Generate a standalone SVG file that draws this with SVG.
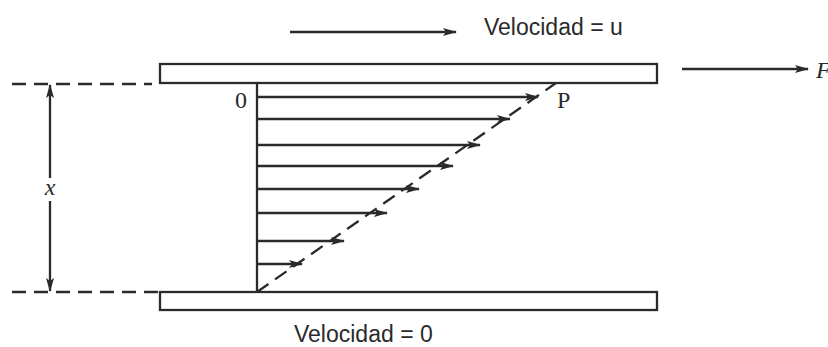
<svg xmlns="http://www.w3.org/2000/svg" width="828" height="347" viewBox="0 0 828 347">
<defs>
<marker id="ah" markerWidth="14" markerHeight="10" refX="13" refY="5" orient="auto" markerUnits="userSpaceOnUse">
<path d="M0,1 L14,5 L0,9 L3,5 Z" fill="#2a2a2a"/>
</marker>
</defs>
<style>
.ln{stroke:#2a2a2a;stroke-width:2.3;fill:none}
.dash{stroke:#2a2a2a;stroke-width:2.3;fill:none;stroke-dasharray:14,8}
.plate{fill:#fff;stroke:#2a2a2a;stroke-width:2.3}
.sans{font-family:"Liberation Sans",Arial,sans-serif;font-size:23px;fill:#2a2a2a}
.serif{font-family:"Liberation Serif","Times New Roman",serif;font-size:24px;fill:#2a2a2a}
</style>
<rect width="828" height="347" fill="#fff"/>
<g id="top-plate"><rect class="plate" x="160" y="64" width="497" height="19"/></g>
<g id="bottom-plate"><rect class="plate" x="160" y="292" width="497" height="18"/></g>
<g id="labels">
<text class="sans" x="484" y="35">Velocidad = u</text>
<text class="sans" x="294" y="342">Velocidad = 0</text>
<text class="serif" x="235" y="108">0</text>
<text class="serif" x="557" y="108" font-size="25">P</text>
<text class="serif" x="816" y="78" font-style="italic" font-size="26">F</text>
<text class="serif" x="50" y="195" font-style="italic" font-size="24" text-anchor="middle">x</text>
</g>
<g id="connectors">
<line class="ln" x1="290" y1="32" x2="456" y2="32" marker-end="url(#ah)"/>
<line class="ln" x1="682" y1="69" x2="808" y2="69" marker-end="url(#ah)"/>
<line class="dash" x1="12" y1="84" x2="152" y2="84"/>
<line class="dash" x1="12" y1="292" x2="160" y2="292"/>
<line class="ln" x1="50" y1="178" x2="50" y2="85" marker-end="url(#ah)"/>
<line class="ln" x1="50" y1="201" x2="50" y2="291" marker-end="url(#ah)"/>
<line class="ln" x1="257" y1="83" x2="257" y2="292"/>
<line class="dash" x1="257" y1="292" x2="556" y2="83" stroke-dasharray="12,7"/>
<line class="ln" x1="257" y1="97" x2="538" y2="97" marker-end="url(#ah)"/>
<line class="ln" x1="257" y1="119" x2="510" y2="119" marker-end="url(#ah)"/>
<line class="ln" x1="257" y1="145" x2="480" y2="145" marker-end="url(#ah)"/>
<line class="ln" x1="257" y1="166" x2="453" y2="166" marker-end="url(#ah)"/>
<line class="ln" x1="257" y1="189" x2="419" y2="189" marker-end="url(#ah)"/>
<line class="ln" x1="257" y1="213" x2="387" y2="213" marker-end="url(#ah)"/>
<line class="ln" x1="257" y1="241" x2="344" y2="241" marker-end="url(#ah)"/>
<line class="ln" x1="257" y1="264" x2="302" y2="264" marker-end="url(#ah)"/>
</g>
</svg>
